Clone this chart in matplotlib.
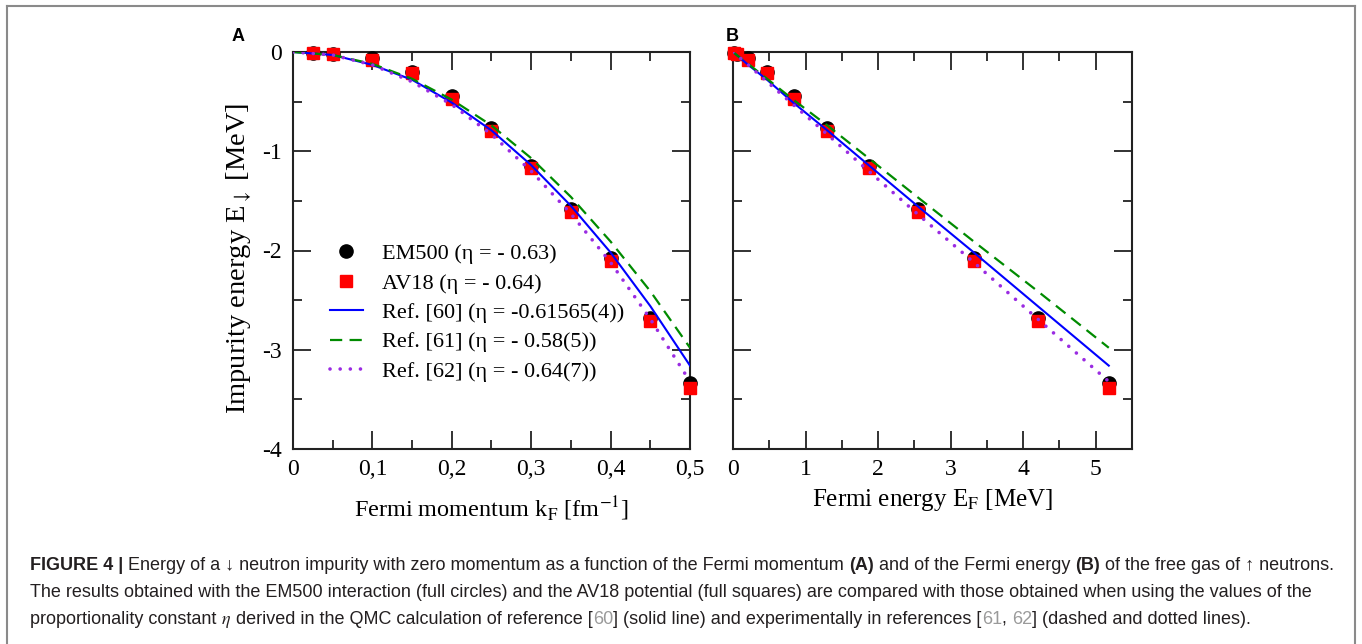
import matplotlib
matplotlib.use('Agg')
import matplotlib.pyplot as plt
from matplotlib.lines import Line2D

plt.rcParams['font.family'] = ['Liberation Serif', 'DejaVu Serif']
plt.rcParams['mathtext.fontset'] = 'stix'
plt.rcParams['axes.unicode_minus'] = False

# points
kf = [0.025, 0.05, 0.1, 0.15, 0.2, 0.25, 0.3, 0.35, 0.4, 0.45, 0.5]
ef = [0.01, 0.05, 0.21, 0.47, 0.84, 1.30, 1.87, 2.55, 3.32, 4.20, 5.18]
em500 = [-0.01, -0.02, -0.065, -0.20, -0.44, -0.77, -1.15, -1.58, -2.08, -2.68, -3.34]
av18 = [-0.01, -0.02, -0.08, -0.215, -0.475, -0.80, -1.17, -1.61, -2.11, -2.71, -3.39]

# reference lines, read at a grid of k_F (and the matching E_F)
line_kf = [0, 0.05, 0.1, 0.15, 0.2, 0.25, 0.3, 0.35, 0.4, 0.45, 0.5]
line_ef = [0, 0.05, 0.21, 0.47, 0.83, 1.30, 1.87, 2.54, 3.32, 4.20, 5.18]
ref60 = [0, -0.03, -0.13, -0.28, -0.51, -0.79, -1.14, -1.55, -2.02, -2.56, -3.16]
ref61 = [0, -0.03, -0.12, -0.27, -0.48, -0.74, -1.07, -1.46, -1.91, -2.41, -2.98]
ref62 = [0, -0.03, -0.13, -0.30, -0.53, -0.83, -1.20, -1.63, -2.12, -2.69, -3.32]

labels = ['EM500 (η = - 0.63)', 'AV18 (η = - 0.64)', 'Ref. [60] (η = -0.61565(4))',
          'Ref. [61] (η = - 0.58(5))', 'Ref. [62] (η = - 0.64(7))']

W, H = 1362, 644
fig = plt.figure(figsize=(W / 100, H / 100), dpi=100)
axA = fig.add_axes([293 / W, 195 / H, 397 / W, 397 / H])
axB = fig.add_axes([733 / W, 195 / H, 399 / W, 397 / H])


def draw(ax, x, lx):
    h1, = ax.plot(x, em500, 'o', color='black', ms=9.5, clip_on=False, zorder=3)
    h2, = ax.plot(x, av18, 's', color='#ff0000', ms=9, clip_on=False, zorder=4)
    h3, = ax.plot(lx, ref60, '-', color='#0000ff', lw=1.5, zorder=5)
    h4, = ax.plot(lx, ref61, color='#008b00', lw=1.6, ls=(0, (5.5, 3.3)), zorder=5)
    h5, = ax.plot(lx, ref62, color='#9a2be2', lw=2.6, ls=(0, (0.01, 2.8)),
                  dash_capstyle='round', zorder=5)
    ax.set_ylim(-4, 0)
    ax.set_yticks([0, -1, -2, -3, -4])
    ax.set_yticks([-0.5, -1.5, -2.5, -3.5], minor=True)
    ax.tick_params(which='both', direction='in', top=True, right=True, width=1.3,
                   labelsize=17, color='#222222')
    ax.tick_params(which='major', length=13)
    ax.tick_params(which='minor', length=6.5)
    ax.tick_params(axis='x', pad=7)
    ax.tick_params(axis='y', pad=8)
    for s in ax.spines.values():
        s.set_linewidth(1.5)
        s.set_color('#222222')
    return [h1, h2, h3, h4, h5]


handles = draw(axA, kf, line_kf)
axA.set_xlim(0, 0.5)
axA.set_xticks([0, 0.1, 0.2, 0.3, 0.4, 0.5], ['0', '0,1', '0,2', '0,3', '0,4', '0,5'])
axA.set_xticks([0.05, 0.15, 0.25, 0.35, 0.45], minor=True)
axA.set_yticklabels(['0', '-1', '-2', '-3', '-4'])
axA.set_xlabel(r'Fermi momentum k$_\mathrm{F}$ [fm$^{\mathrm{-1}}$]', fontsize=17.5, labelpad=11)
axA.set_ylabel(r'Impurity energy E$_{\downarrow}$ [MeV]', fontsize=20.5)
axA.yaxis.set_label_coords(-0.095, 0.48)
axA.legend(handles, labels, loc='upper left', bbox_to_anchor=(0.07, 0.54), frameon=False,
           fontsize=16, handlelength=1.5, handletextpad=0.85, labelspacing=0.4,
           borderaxespad=0)

draw(axB, ef, line_ef)
axB.set_xlim(0, 5.5)
axB.set_xticks([0, 1, 2, 3, 4, 5])
axB.set_xticks([0.5, 1.5, 2.5, 3.5, 4.5], minor=True)
axB.set_yticklabels([])
axB.set_xlabel(r'Fermi energy E$_\mathrm{F}$ [MeV]', fontsize=18, labelpad=5)

fig.text(232 / W, 1 - 41 / H, 'A', family='Liberation Sans', weight='bold', fontsize=13)
fig.text(726 / W, 1 - 41 / H, 'B', family='Liberation Sans', weight='bold', fontsize=13)

# frame round the figure and its caption
frame = dict(color='#8a8a8a', lw=1.5, transform=fig.transFigure)
fig.add_artist(Line2D([7 / W, 7 / W], [0, 1 - 6 / H], **frame))
fig.add_artist(Line2D([7 / W, 1355 / W], [1 - 6 / H, 1 - 6 / H], **frame))
fig.add_artist(Line2D([1355 / W, 1355 / W], [0, 1 - 6 / H], **frame))

# caption, written piece by piece on a common baseline
ink = '#231f20'
grey = '#9a9a9a'
caption = [
    [('FIGURE 4 | ', 'bold', ink),
     ('Energy of a ↓ neutron impurity with zero momentum as a function of the Fermi momentum ', 'normal', ink),
     ('(A)', 'bold', ink), (' and of the Fermi energy ', 'normal', ink), ('(B)', 'bold', ink),
     (' of the free gas of ↑ neutrons.', 'normal', ink)],
    [('The results obtained with the EM500 interaction (full circles) and the AV18 potential '
      '(full squares) are compared with those obtained when using the values of the', 'normal', ink)],
    [('proportionality constant ', 'normal', ink), (r'$\eta$', 'normal', ink),
     (' derived in the QMC calculation of reference [', 'normal', ink), ('60', 'normal', grey),
     ('] (solid line) and experimentally in references [', 'normal', ink), ('61', 'normal', grey),
     (', ', 'normal', ink), ('62', 'normal', grey), ('] (dashed and dotted lines).', 'normal', ink)],
]
baselines = [570, 597, 624]
renderer = fig.canvas.get_renderer()
for pieces, yb in zip(caption, baselines):
    x = 30
    for txt, wt, col in pieces:
        t = fig.text(x / W, 1 - yb / H, txt, family=['Liberation Sans', 'DejaVu Sans'],
                     weight=wt, color=col, fontsize=13, va='baseline')
        x = t.get_window_extent(renderer).x1

fig.savefig('out.png', dpi=100)
